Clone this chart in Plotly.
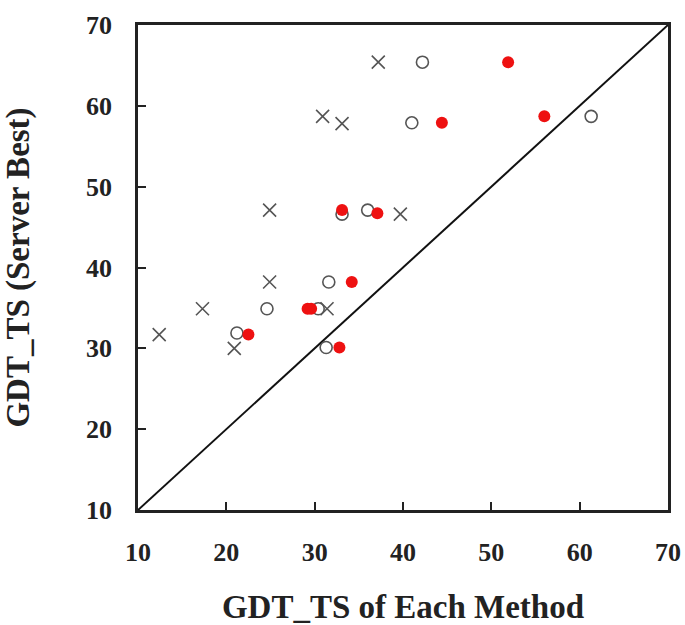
import plotly.graph_objects as go

# Method A (crosses)
x_cross = [37.2, 30.9, 33.1, 24.9, 39.7, 24.9, 17.3, 31.4, 12.4, 20.9]
y_cross = [65.4, 58.7, 57.8, 47.1, 46.6, 38.2, 34.9, 34.9, 31.7, 30.0]
# Method B (open circles)
x_open = [42.2, 41.0, 61.3, 33.1, 36.0, 31.6, 24.6, 30.4, 21.2, 31.3]
y_open = [65.4, 57.9, 58.7, 46.6, 47.1, 38.2, 34.9, 34.9, 31.9, 30.1]
# Method C (red filled)
x_red = [51.9, 44.4, 56.0, 33.1, 37.1, 34.2, 29.2, 29.6, 22.5, 32.8]
y_red = [65.4, 57.9, 58.7, 47.1, 46.7, 38.2, 34.9, 34.9, 31.7, 30.1]

diag = [10, 70]
ticks = [10, 20, 30, 40, 50, 60, 70]

fig = go.Figure()
fig.add_trace(go.Scatter(x=diag, y=diag, mode="lines",
                         line=dict(color="#111", width=2), showlegend=False))
fig.add_trace(go.Scatter(x=x_cross, y=y_cross, mode="markers",
                         marker=dict(symbol="x-thin-open", size=13, color="#555",
                                     line=dict(color="#555", width=1.6)),
                         showlegend=False))
fig.add_trace(go.Scatter(x=x_open, y=y_open, mode="markers",
                         marker=dict(symbol="circle-open", size=12, color="#555",
                                     line=dict(color="#555", width=1.6)),
                         showlegend=False))
fig.add_trace(go.Scatter(x=x_red, y=y_red, mode="markers",
                         marker=dict(symbol="circle", size=12, color="#ee1111",
                                     line=dict(width=0)),
                         showlegend=False))

tickfont = dict(family="Liberation Serif", size=26, color="#222", weight="bold")
titlefont = dict(family="Liberation Serif", size=33, color="#222", weight="bold")

fig.update_layout(
    width=685, height=625,
    margin=dict(l=138, r=17, t=25, b=115),
    paper_bgcolor="white", plot_bgcolor="white",
    xaxis=dict(range=[10, 70], tickvals=ticks, ticks="inside", ticklen=8,
               tickwidth=2, tickcolor="#222", showgrid=False, zeroline=False,
               showline=True, linecolor="#222", linewidth=2.5, mirror=True,
               tickfont=tickfont, ticklabelstandoff=17, automargin=False,
               title=dict(text="GDT_TS of Each Method", font=titlefont, standoff=30)),
    yaxis=dict(range=[10, 70], tickvals=ticks, ticks="inside", ticklen=8,
               tickwidth=2, tickcolor="#222", showgrid=False, zeroline=False,
               showline=True, linecolor="#222", linewidth=2.5, mirror=True,
               tickfont=tickfont, ticklabelstandoff=18, automargin=False,
               title=dict(text="GDT_TS (Server Best)", font=titlefont, standoff=48)),
)

fig.write_html("out.html")
